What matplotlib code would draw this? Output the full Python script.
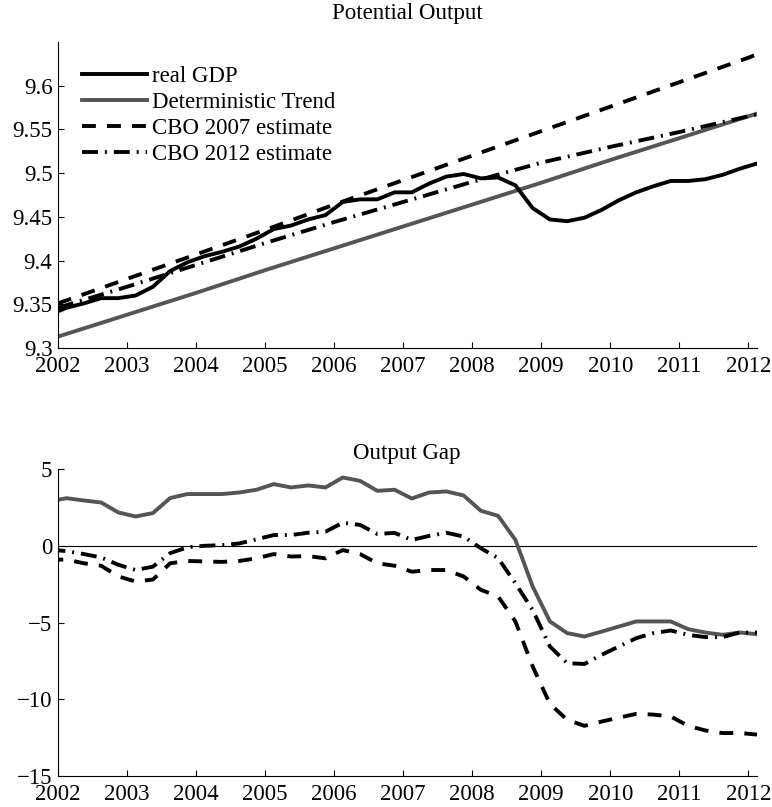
import numpy as np
import matplotlib
matplotlib.use("Agg")
import matplotlib.pyplot as plt

# quarterly points, plotted at the middle of each quarter (2001Q4 .. 2012Q1)
quarters = np.arange(2001.875, 2012.126, 0.25)

# log real GDP
real_gdp = [9.338, 9.346, 9.351, 9.357, 9.357, 9.360, 9.370, 9.388, 9.398, 9.405,
            9.410, 9.416, 9.425, 9.436, 9.440, 9.447, 9.452, 9.467, 9.470, 9.470,
            9.478, 9.478, 9.488, 9.496, 9.499, 9.494, 9.495, 9.486, 9.460, 9.447,
            9.445, 9.449, 9.458, 9.469, 9.478, 9.485, 9.491, 9.491, 9.493, 9.498,
            9.505, 9.511]

# potential output paths, read at the start of each year
pot_years = [2002, 2003, 2004, 2005, 2006, 2007, 2008, 2009, 2010, 2011, 2012, 2012.125]
trend_pot = [9.313, 9.338, 9.363, 9.389, 9.414, 9.439, 9.464, 9.489, 9.515, 9.540, 9.565, 9.568]
cbo07_pot = [9.351, 9.379, 9.407, 9.435, 9.464, 9.492, 9.520, 9.548, 9.576, 9.604, 9.632, 9.636]
cbo12_pot = [9.346, 9.370, 9.395, 9.420, 9.444, 9.467, 9.490, 9.512, 9.530, 9.547, 9.565, 9.567]

# output gaps (percent)
gap_trend = [2.90, 3.10, 2.95, 2.82, 2.17, 1.91, 2.13, 3.11, 3.37, 3.37,
             3.37, 3.47, 3.65, 4.02, 3.80, 3.93, 3.80, 4.45, 4.23, 3.58,
             3.65, 3.08, 3.47, 3.54, 3.28, 2.28, 1.95, 0.39, -2.65, -4.93,
             -5.69, -5.91, -5.59, -5.26, -4.93, -4.93, -4.93, -5.43, -5.65, -5.80,
             -5.65, -5.76]
gap_cbo07 = [-0.90, -0.90, -1.14, -1.30, -2.00, -2.33, -2.20, -1.14, -0.99, -1.02,
             -1.05, -0.99, -0.82, -0.54, -0.70, -0.67, -0.82, -0.28, -0.54, -1.14,
             -1.30, -1.69, -1.58, -1.58, -2.00, -2.87, -3.30, -4.93, -7.86, -10.30,
             -11.34, -11.73, -11.45, -11.20, -10.95, -11.00, -11.12, -11.73, -12.03, -12.20,
             -12.20, -12.30]
gap_cbo12 = [-0.25, -0.35, -0.54, -0.76, -1.24, -1.58, -1.36, -0.48, -0.10, 0.00,
             0.04, 0.15, 0.42, 0.70, 0.70, 0.85, 0.92, 1.50, 1.36, 0.77,
             0.84, 0.38, 0.64, 0.85, 0.60, -0.16, -0.81, -2.44, -4.18, -6.56,
             -7.65, -7.70, -7.10, -6.56, -6.02, -5.69, -5.52, -5.80, -5.95, -5.95,
             -5.65, -5.65]

year_ticks = list(range(2002, 2013))

plt.rcParams['font.family'] = ['Liberation Serif', 'DejaVu Serif']
plt.rcParams['font.size'] = 16.5
plt.rcParams['lines.scale_dashes'] = False

gray = "#555555"
lw = 2.8
dash = (0, (10, 8))
dashdot = (0, (11.5, 5, 1.4, 5))

fig = plt.figure(figsize=(7.72, 8.07), dpi=100)
ax1 = fig.add_axes([0.0751, 0.5688, 0.9055, 0.3792])
ax2 = fig.add_axes([0.0751, 0.0384, 0.9055, 0.3804])

# top panel
ax1.plot(quarters, real_gdp, color="black", lw=lw, label="real GDP", zorder=4)
ax1.plot(pot_years, trend_pot, color=gray, lw=lw, label="Deterministic Trend")
ax1.plot(pot_years, cbo07_pot, color="black", lw=lw, linestyle=dash, label="CBO 2007 estimate")
ax1.plot(pot_years, cbo12_pot, color="black", lw=lw, linestyle=dashdot, label="CBO 2012 estimate")
ax1.set_ylim(9.3, 9.65)
ax1.set_yticks([9.3, 9.35, 9.4, 9.45, 9.5, 9.55, 9.6])
ax1.set_yticklabels(["9.3", "9.35", "9.4", "9.45", "9.5", "9.55", "9.6"])
ax1.legend(loc="upper left", bbox_to_anchor=(0.034, 0.923), frameon=False,
           borderpad=0, borderaxespad=0, handlelength=2.84, handletextpad=0.22,
           labelspacing=0.22)

# bottom panel
ax2.axhline(0, color="black", lw=0.8)
ax2.plot(quarters, gap_trend, color=gray, lw=lw)
ax2.plot(quarters, gap_cbo07, color="black", lw=lw, linestyle=dash)
ax2.plot(quarters, gap_cbo12, color="black", lw=lw, linestyle=dashdot)
ax2.set_ylim(-15, 5)
ax2.set_yticks([-15, -10, -5, 0, 5])
ax2.set_yticklabels(["\u221215", "\u221210", "\u22125", "0", "5"])

for ax in (ax1, ax2):
    ax.set_xlim(2002, 2012.125)
    ax.set_xticks(year_ticks)
    ax.set_xticklabels([str(y) for y in year_ticks])
    ax.spines["top"].set_visible(False)
    ax.spines["right"].set_visible(False)
    ax.spines["left"].set_linewidth(0.8)
    ax.spines["bottom"].set_linewidth(0.8)
    ax.tick_params(direction="in", length=4.5, width=0.8)
    ax.tick_params(axis="x", pad=5.5)
    ax.tick_params(axis="y", pad=4)

fig.text(0.5272, 0.983, "Potential Output", ha="center", va="center")
fig.text(0.5272, 0.438, "Output Gap", ha="center", va="center")

fig.savefig("out.png", dpi=100)
